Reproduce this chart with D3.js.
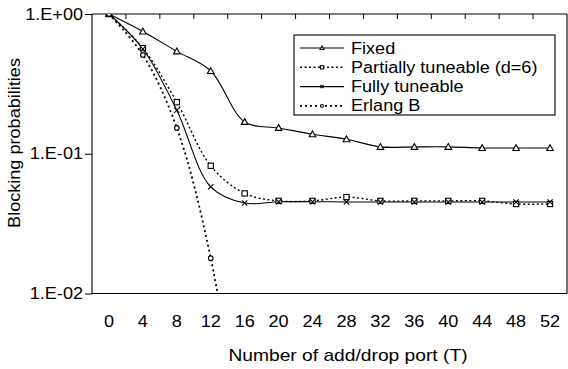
<!DOCTYPE html>
<html><head><meta charset="utf-8">
<script src="https://cdn.jsdelivr.net/npm/d3@7"></script>
<style>
html,body{margin:0;padding:0;background:#fff;}
svg{display:block;font-family:"Liberation Sans",Arial,sans-serif;}
</style></head>
<body><svg id="c" width="568" height="369"></svg>
<script>
const categories = [0,4,8,12,16,20,24,28,32,36,40,44,48,52];
const fixedVals   = [1.0,0.75,0.54,0.391,0.169,0.153,0.138,0.127,0.112,0.112,0.112,0.110,0.110,0.110];
const partialVals = [1.0,0.57,0.234,0.082,0.052,0.046,0.046,0.049,0.046,0.046,0.046,0.046,0.0437,0.0437];
const fullVals    = [1.0,0.562,0.205,0.058,0.0444,0.0454,0.0454,0.0452,0.0452,0.0452,0.0452,0.0452,0.0452,0.0452];
const erlangVals  = [1.0,0.509,0.153,0.0179,0.0006,null,null,null,null,null,null,null,null,null];
const seriesNames = ["Fixed","Partially tuneable (d=6)","Fully tuneable","Erlang B"];
const yTicks = [1,0.1,0.01];
const yTickLabels = ["1.E+00","1.E-01","1.E-02"];
const xTitle = "Number of add/drop port (T)";
const yTitle = "Blocking probabilities";

const svg = d3.select("#c");
const L=92, R=567, T=14, B=293.5;
const STRETCH = 1.13;
const x = d3.scaleBand().domain(categories).range([L,R]);
const y = d3.scaleLog().domain([0.01,1]).range([B,T]);
const cx = d => x(d)+x.bandwidth()/2;

svg.append("clipPath").attr("id","clip").append("rect").attr("x",L).attr("y",T).attr("width",R-L).attr("height",B-T);

svg.append("path").attr("d",`M${L},${T}V${B}H${R}V${T}`).attr("fill","none").attr("stroke","#000").attr("stroke-width",1.1);

const gTop = svg.append("g").attr("transform",`translate(0,${T})`);
gTop.append("line").attr("x1",L).attr("x2",R).attr("y1",0).attr("y2",0).attr("stroke","#000").attr("stroke-width",1.1);
categories.slice(1).forEach(c=>{
  gTop.append("line").attr("x1",x(c)).attr("x2",x(c)).attr("y1",0).attr("y2",5).attr("stroke","#000");
});

const gx = svg.append("g").attr("transform",`translate(0,${B})`);
gx.call(d3.axisBottom(x).tickSize(0).tickPadding(22).tickFormat(d=>String(d)));
gx.select(".domain").remove();
gx.selectAll("text").attr("font-size",16).attr("font-family","Liberation Sans, Arial, sans-serif").attr("fill","#000").classed("st",true);

const gy = svg.append("g").attr("transform",`translate(${L},0)`);
gy.call(d3.axisLeft(y).tickValues(yTicks).tickSize(7).tickPadding(2).tickFormat((d,i)=>yTickLabels[i]));
gy.select(".domain").remove();
gy.selectAll("line").attr("stroke","#000");
gy.selectAll("text").attr("font-size",16).attr("font-family","Liberation Sans, Arial, sans-serif").attr("fill","#000").classed("st",true);

svg.append("text").attr("x",348).attr("y",361).attr("text-anchor","middle").attr("font-size",17).classed("st",true).text(xTitle);
svg.append("text").attr("transform",`translate(20,${143}) rotate(-90)`).attr("text-anchor","middle").attr("font-size",16).classed("st",true).text(yTitle);

const series = [
  {name:seriesNames[0], vals:fixedVals, dash:null, w:1.1, marker:"tri"},
  {name:seriesNames[1], vals:partialVals, dash:"2,2.5", w:1.4, marker:"sq"},
  {name:seriesNames[2], vals:fullVals, dash:null, w:1.1, marker:"x"},
  {name:seriesNames[3], vals:erlangVals, dash:"2,3", w:1.8, marker:"circ"}
];
const line = d3.line().defined(d=>d.v!=null).x(d=>cx(d.c)).y(d=>y(d.v)).curve(d3.curveCatmullRom.alpha(0.5));

function drawMarker(g, type, px, py, s){
  if(type==="tri"){
    g.append("path").attr("d",`M${px},${py-s}L${px+s},${py+s*0.75}L${px-s},${py+s*0.75}Z`).attr("fill","#fff").attr("stroke","#000").attr("stroke-width",1.1);
  } else if(type==="sq"){
    g.append("rect").attr("x",px-s*0.8).attr("y",py-s*0.8).attr("width",s*1.6).attr("height",s*1.6).attr("fill","#fff").attr("stroke","#000").attr("stroke-width",1.1);
  } else if(type==="x"){
    g.append("path").attr("d",`M${px-s*0.8},${py-s*0.8}L${px+s*0.8},${py+s*0.8}M${px-s*0.8},${py+s*0.8}L${px+s*0.8},${py-s*0.8}`).attr("stroke","#000").attr("stroke-width",1.1);
  } else {
    g.append("circle").attr("cx",px).attr("cy",py).attr("r",s*0.7).attr("fill","#fff").attr("stroke","#000").attr("stroke-width",1.1);
  }
}

const gPlot = svg.append("g").attr("clip-path","url(#clip)");
series.forEach(s=>{
  const data = categories.map((c,i)=>({c, v:s.vals[i]}));
  gPlot.append("path").datum(data).attr("d",line).attr("fill","none").attr("stroke","#000")
    .attr("stroke-width",s.w).attr("stroke-dasharray",s.dash);
});
series.forEach(s=>{
  const g = gPlot.append("g");
  categories.forEach((c,i)=>{
    const v=s.vals[i];
    if(v==null||v<0.01) return;
    drawMarker(g,s.marker,cx(c),y(v),3.3);
  });
});

const lg = svg.append("g");
lg.append("rect").attr("x",294).attr("y",35).attr("width",261).attr("height",80).attr("fill","#fff").attr("stroke","#000").attr("stroke-width",1.1);
series.forEach((s,i)=>{
  const yy = 48 + i*19.3;
  lg.append("line").attr("x1",300).attr("x2",344).attr("y1",yy).attr("y2",yy).attr("stroke","#000").attr("stroke-width",s.w).attr("stroke-dasharray",s.dash);
  drawMarker(lg,s.marker,322,yy,2);
  lg.append("text").attr("x",351).attr("y",yy+5.5).attr("font-size",16).classed("st",true).text(s.name);
});

// horizontally widen text to match the reference's wide glyphs
svg.selectAll("text.st").each(function(){
  const len = this.getComputedTextLength();
  d3.select(this).attr("textLength", len*STRETCH).attr("lengthAdjust","spacingAndGlyphs");
});
</script>
</body></html>
